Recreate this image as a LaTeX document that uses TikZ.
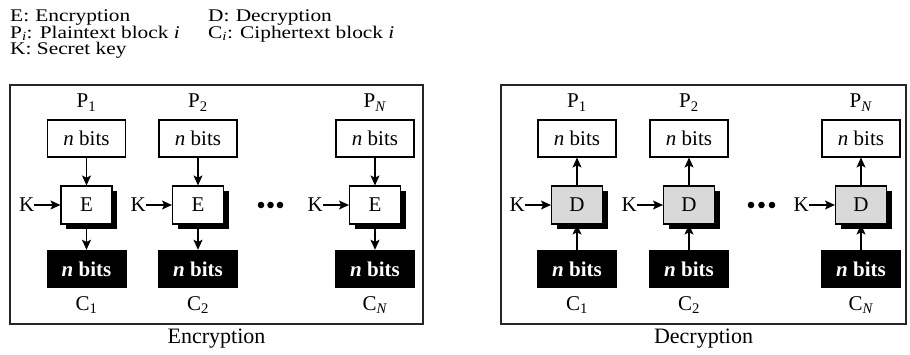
\documentclass[tikz,border=0pt]{standalone}
\usepackage{fontspec}
\setmainfont{Liberation Serif}
\newfontfamily\legendfont{Liberation Serif}[FakeStretch=1.2]
\usetikzlibrary{arrows.meta,positioning,shadows}
\begin{document}
\begin{tikzpicture}[x=1pt,y=-1pt,
  every node/.style={inner sep=0pt},
  legend/.style={font=\legendfont\fontsize{17.8}{17.8}\selectfont},
  lbl/.style={font=\fontsize{21}{21}\selectfont},
  plbl/.style={font=\fontsize{22}{22}\selectfont},
  plainbox/.style={draw, line width=1.1pt, fill=white, minimum width=78pt, minimum height=37pt, font=\fontsize{21}{21}\selectfont},
  cbox/.style={fill=black, text=white, minimum width=80pt, minimum height=38pt, font=\fontsize{21}{21}\selectfont\bfseries},
  encbox/.style={draw, line width=1.1pt, fill=white, minimum width=51pt, minimum height=38pt, font=\fontsize{21}{21}\selectfont,
    drop shadow={shadow xshift=5pt, shadow yshift=-5pt, opacity=1, fill=black}},
  decbox/.style={encbox, fill=black!15},
  arr/.style={-{Stealth[length=10pt,width=9pt,inset=2.2pt]}, line width=1.3pt},
  frame/.style={draw=black!85, line width=1.3pt},
  dot/.style={fill=black}
]
\useasboundingbox (0,0) rectangle (910,355);
% legend
\node[legend, anchor=base west] (lE) at (10,22) {E:\hspace{0.35em}Encryption};
\node[legend, anchor=base west] (lP) at (10,38.2) {P\textsubscript{\textit{i}}: Plaintext block \textit{i}};
\node[legend, anchor=base west] (lK) at (10,54.4) {K: Secret key};
\node[legend, anchor=base west] (lD) at (208,22) {D:\hspace{0.35em}Decryption};
\node[legend, anchor=base west] (lC) at (208,38.2) {C\textsubscript{\textit{i}}: Ciphertext block \textit{i}};
% frames
\draw[frame] (10,85) rectangle (423,324);
\draw[frame] (501,85) rectangle (906,324);
% encryption
\foreach \i/\x/\s in {1/86.5/1, 2/198/2, 3/375/\textit{N}} {
  \node[plainbox] (ep\i) at (\x,138.5) {\textit{n} bits};
  \node[encbox] (ee\i) at (\x,205) {E};
  \node[cbox] (ec\i) at (\x,269) {\textit{n} bits};
  \node[lbl, anchor=base] (epl\i) at (\x,108) {P\textsubscript{\s}};
  \node[lbl, anchor=base] (ecl\i) at (\x,310) {C\textsubscript{\s}};
  \node[lbl, left=26pt of ee\i] (ek\i) {K};
  \draw[arr] (ek\i) -- (ee\i);
  \draw[arr] (ep\i) -- (ee\i);
  \draw[arr] (ee\i) -- (ec\i);
}
% decryption
\foreach \i/\x/\s in {1/577/1, 2/689/2, 3/861/\textit{N}} {
  \node[plainbox] (dp\i) at (\x,138.5) {\textit{n} bits};
  \node[decbox] (dd\i) at (\x,205) {D};
  \node[cbox] (dc\i) at (\x,269) {\textit{n} bits};
  \node[lbl, anchor=base] (dpl\i) at (\x,108) {P\textsubscript{\s}};
  \node[lbl, anchor=base] (dcl\i) at (\x,310) {C\textsubscript{\s}};
  \node[lbl, left=26pt of dd\i] (dk\i) {K};
  \draw[arr] (dk\i) -- (dd\i);
  \draw[arr] (dc\i) -- (dd\i);
  \draw[arr] (dd\i) -- (dp\i);
}
% dots
\foreach \x in {261,270.5,280} \fill[dot] (\x,205) circle (3.3pt);
\foreach \x in {751,761.5,772} \fill[dot] (\x,205) circle (3.3pt);
% panel labels
\node[plbl, anchor=base] (encl) at (216.5,343) {Encryption};
\node[plbl, anchor=base] (decl) at (703.5,343) {Decryption};
\end{tikzpicture}
\end{document}
